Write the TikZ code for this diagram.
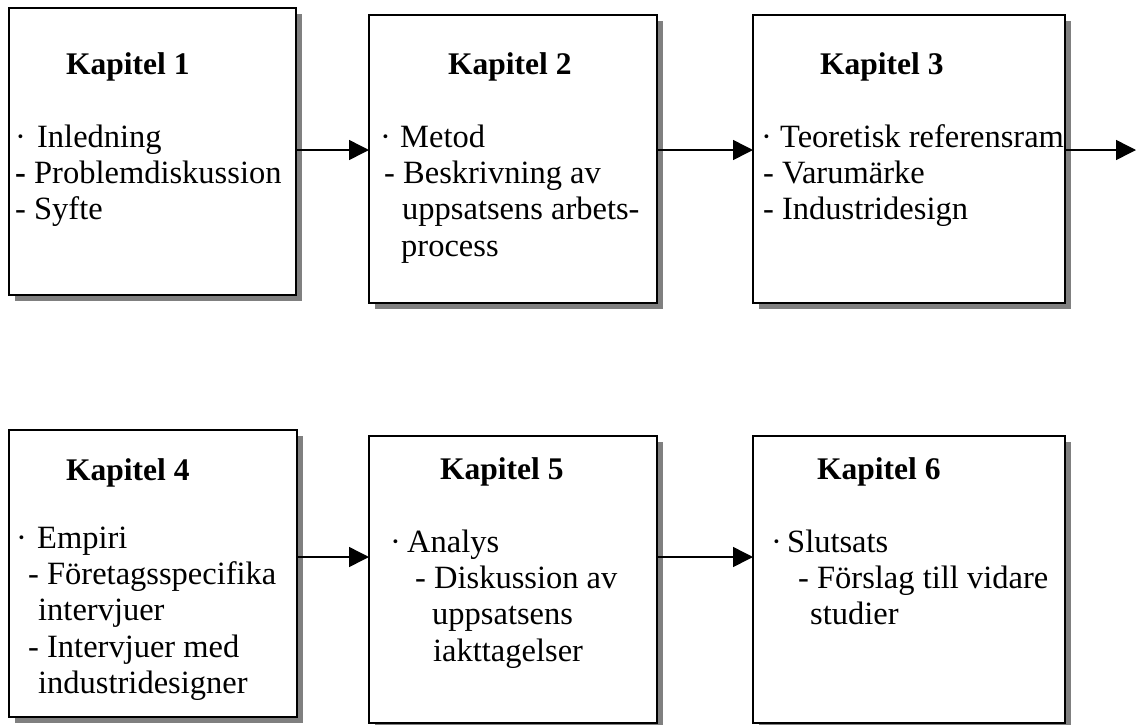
\documentclass[tikz,border=0pt]{standalone}
\usepackage{fontspec}
\setmainfont{Liberation Serif}
\usetikzlibrary{arrows.meta,shadows}

% bullet dot followed by a fixed gap
\newcommand{\bul}[1]{\makebox[#1][l]{·}}
% lines of a box, first baseline at the node's base
\newcommand{\lines}[1]{\begin{tabular}[t]{@{}l@{}}#1\end{tabular}}

\begin{document}
\begin{tikzpicture}[x=1pt,y=-1pt,
  chapbox/.style={draw,line width=2pt,fill=white,inner sep=0pt,outer sep=0pt,
    drop shadow={shadow xshift=6pt,shadow yshift=-6pt,fill=gray,opacity=1}},
  head/.style={anchor=base west,inner sep=0pt,font=\fontsize{31.5}{36.3}\selectfont\bfseries},
  body/.style={anchor=base west,inner sep=0pt,font=\fontsize{32.5}{36.4}\selectfont},
  arr/.style={line width=1.5pt,-{Triangle[length=20pt,width=20pt]}}]
\useasboundingbox (0,0) rectangle (1136,724);

% chapter boxes
\node[chapbox,minimum width=287pt,minimum height=287pt] (b1) at (152.5,151.5) {};
\node[chapbox,minimum width=288pt,minimum height=288pt] (b2) at (513,159) {};
\node[chapbox,minimum width=312pt,minimum height=288pt] (b3) at (909,159) {};
\node[chapbox,minimum width=288pt,minimum height=287pt] (b4) at (153,573.5) {};
\node[chapbox,minimum width=288pt,minimum height=287pt] (b5) at (513,579.5) {};
\node[chapbox,minimum width=312pt,minimum height=287pt] (b6) at (909,579.5) {};

% headings
\node[head] (h1) at (66,74) {Kapitel 1};
\node[head] (h2) at (448,74) {Kapitel 2};
\node[head] (h3) at (820,74) {Kapitel 3};
\node[head] (h4) at (66,480) {Kapitel 4};
\node[head] (h5) at (440,479) {Kapitel 5};
\node[head] (h6) at (817,479) {Kapitel 6};

% contents
\node[body] (t1) at (15,147) {\lines{\bul{22pt}Inledning\\ \textbf{-} Problemdiskussion\\ - Syfte}};
\node[body] (t2) at (380,147) {\lines{\bul{20pt}Metod\\ \hspace*{4pt}- Beskrivning av\\ \hspace*{22pt}uppsatsens arbets-\\ \hspace*{21pt}process}};
\node[body] (t3) at (761,147) {\lines{\bul{19pt}Teoretisk referensram\\ \hspace*{2pt}- Varumärke\\ \hspace*{2pt}- Industridesign}};
\node[body] (t4) at (16,548) {\lines{\bul{21pt}Empiri\\ \hspace*{12pt}- Företagsspecifika\\ \hspace*{22pt}intervjuer\\ \hspace*{12pt}- Intervjuer med\\ \hspace*{22pt}industridesigner}};
\node[body] (t5) at (390,552) {\lines{\bul{17pt}Analys\\ \hspace*{25pt}- Diskussion av\\ \hspace*{42pt}uppsatsens\\ \hspace*{43pt}iakttagelser}};
\node[body] (t6) at (771,552) {\lines{\bul{16pt}Slutsats\\ \hspace*{27pt}- Förslag till vidare\\ \hspace*{39pt}studier}};

% connector rows
\coordinate (r1) at (0,150);
\coordinate (r2) at (0,557);
\coordinate (out) at (1136,150);

\draw[arr] (b1.east |- r1) -- (b2.west |- r1);
\draw[arr] (b2.east |- r1) -- (b3.west |- r1);
\draw[arr] (b3.east |- r1) -- (out);
\draw[arr] (b4.east |- r2) -- (b5.west |- r2);
\draw[arr] (b5.east |- r2) -- (b6.west |- r2);
\end{tikzpicture}
\end{document}
